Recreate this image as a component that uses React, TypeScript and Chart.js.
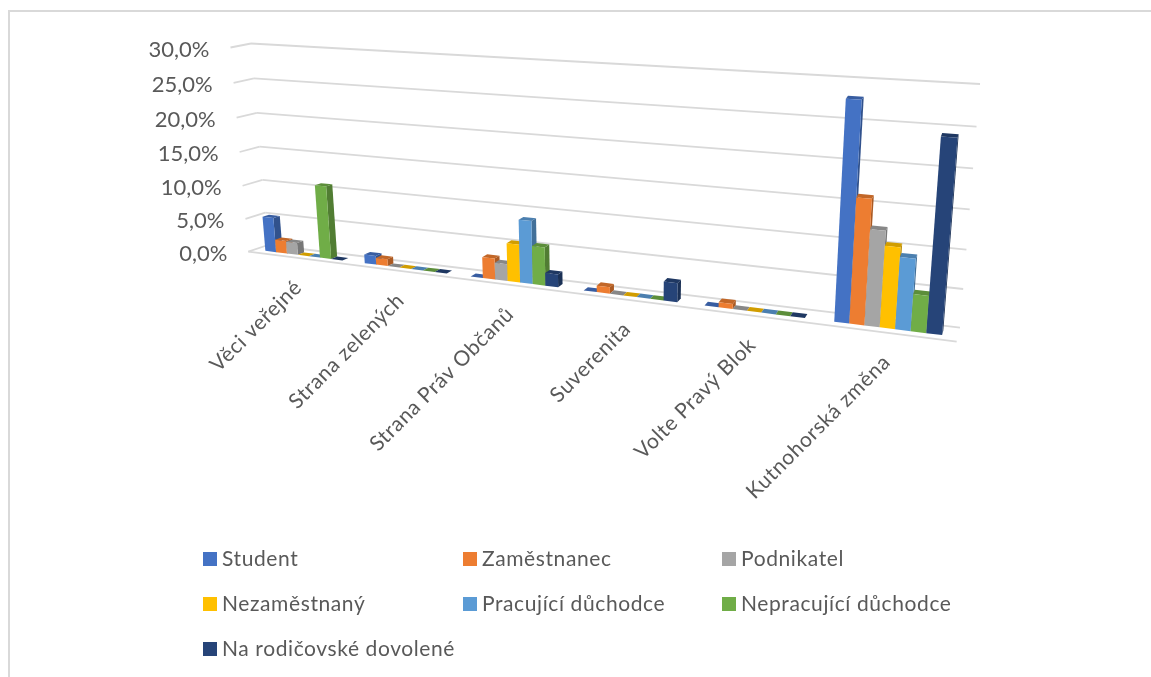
import React, { useEffect, useRef } from "react";
import { Chart, registerables } from "chart.js";

Chart.register(...registerables);

const categories = ["Věci veřejné", "Strana zelených", "Strana Práv Občanů", "Suverenita", "Volte Pravý Blok", "Kutnohorská změna"];
const student = [5.2, 1.3, 0, 0, 0, 28.1];
const zamestnanec = [1.9, 1.0, 3.0, 0.9, 0.7, 16.2];
const podnikatel = [1.8, 0, 2.4, 0, 0, 12.4];
const nezamestnany = [0, 0, 5.4, 0, 0, 10.5];
const pracujici = [0, 0, 8.9, 0, 0, 9.3];
const nepracujici = [10.8, 0, 5.4, 0, 0, 4.8];
const rodicovska = [0, 0, 1.8, 2.6, 0, 24.4];

const seriesNames = ["Student", "Zaměstnanec", "Podnikatel", "Nezaměstnaný", "Pracující důchodce", "Nepracující důchodce", "Na rodičovské dovolené"];
const seriesColors = ["#4472C4", "#ED7D31", "#A5A5A5", "#FFC000", "#5B9BD5", "#70AD47", "#264478"];
const seriesValues = [student, zamestnanec, podnikatel, nezamestnany, pracujici, nepracujici, rodicovska];

const FONT = "Lato, Carlito, sans-serif";
const TEXT = "#595959";
const GRID = "#D9D9D9";

type P = [number, number];

// maps the unit square to a quadrilateral (top-left, top-right, bottom-right, bottom-left)
function homography(a: P, b: P, c: P, d: P) {
  const dx1 = b[0] - c[0], dx2 = d[0] - c[0], sx = a[0] - b[0] + c[0] - d[0];
  const dy1 = b[1] - c[1], dy2 = d[1] - c[1], sy = a[1] - b[1] + c[1] - d[1];
  const den = dx1 * dy2 - dx2 * dy1;
  const g = (sx * dy2 - dx2 * sy) / den;
  const h = (dx1 * sy - sx * dy1) / den;
  return (u: number, v: number): P => {
    const w = g * u + h * v + 1;
    return [
      ((b[0] - a[0] + g * b[0]) * u + (d[0] - a[0] + h * d[0]) * v + a[0]) / w,
      ((b[1] - a[1] + g * b[1]) * u + (d[1] - a[1] + h * d[1]) * v + a[1]) / w,
    ];
  };
}

const backWall = homography([251, 43.5], [980, 84], [960, 327.7], [268, 245]);
const frontWall = homography([230.5, 47.5], [977, 94], [956.7, 341.7], [248.3, 251.7]);

const BAR_FRONT = 0.33;
const BAR_BACK = 0.66;

function project(u: number, v: number, d: number): P {
  const f = frontWall(u, v);
  const b = backWall(u, v);
  return [f[0] + (b[0] - f[0]) * d, f[1] + (b[1] - f[1]) * d];
}

function shade(hex: string, k: number) {
  const n = parseInt(hex.slice(1), 16);
  const c = [(n >> 16) & 255, (n >> 8) & 255, n & 255].map((x) => Math.round(x * k));
  return `rgb(${c[0]},${c[1]},${c[2]})`;
}

function poly(ctx: CanvasRenderingContext2D, pts: P[], fill: string) {
  ctx.beginPath();
  pts.forEach((p, i) => (i ? ctx.lineTo(p[0], p[1]) : ctx.moveTo(p[0], p[1])));
  ctx.closePath();
  ctx.fillStyle = fill;
  ctx.fill();
}

function line(ctx: CanvasRenderingContext2D, a: P, b: P) {
  ctx.beginPath();
  ctx.moveTo(a[0], a[1]);
  ctx.lineTo(b[0], b[1]);
  ctx.stroke();
}

const perspective3d = {
  id: "perspective3d",
  beforeDatasetsDraw(chart: any) {
    const { ctx, chartArea: ca, scales } = chart;
    const nu = (x: number) => (x - ca.left) / ca.width;
    const nv = (y: number) => (y - ca.top) / ca.height;

    ctx.save();
    // frame
    ctx.strokeStyle = GRID;
    ctx.lineWidth = 2;
    ctx.beginPath();
    ctx.moveTo(9, 677);
    ctx.lineTo(9, 11);
    ctx.lineTo(1151, 11);
    ctx.stroke();

    // grid lines from the y scale's ticks
    ctx.lineWidth = 1.8;
    scales.y.ticks.forEach((t: any, i: number) => {
      const v = nv(scales.y.getPixelForTick(i));
      line(ctx, project(0, v, 0), project(0, v, 1));
      line(ctx, project(0, v, 1), project(1, v, 1));
    });
    line(ctx, project(0, 1, 0), project(1, 1, 0));

    // bars, category by category, left to right
    categories.forEach((_, j) => {
      chart.data.datasets.forEach((ds: any, i: number) => {
        const el = chart.getDatasetMeta(i).data[j];
        const x0 = nu(el.x - el.width / 2);
        const x1 = nu(el.x + el.width / 2);
        const vt = nv(el.y);
        const vb = nv(el.base);
        const c = ds.backgroundColor as string;
        const ftl = project(x0, vt, BAR_FRONT), ftr = project(x1, vt, BAR_FRONT);
        const fbl = project(x0, vb, BAR_FRONT), fbr = project(x1, vb, BAR_FRONT);
        const btl = project(x0, vt, BAR_BACK), btr = project(x1, vt, BAR_BACK);
        const bbr = project(x1, vb, BAR_BACK);
        poly(ctx, [ftr, fbr, bbr, btr], shade(c, 0.72));
        poly(ctx, [ftl, ftr, btr, btl], shade(c, 0.82));
        if (vb - vt > 0) poly(ctx, [ftl, ftr, fbr, fbl], c);
      });
    });
    ctx.restore();
    return false;
  },
  afterDraw(chart: any) {
    const { ctx, chartArea: ca, scales } = chart;
    ctx.save();
    ctx.fillStyle = TEXT;

    // value axis labels
    ctx.font = `22px ${FONT}`;
    ctx.textAlign = "right";
    ctx.textBaseline = "middle";
    scales.y.ticks.forEach((t: any, i: number) => {
      const v = (scales.y.getPixelForTick(i) - ca.top) / ca.height;
      const p = project(0, v, 0);
      ctx.fillText(t.label, p[0] - 21, p[1] + 2);
    });

    // category labels
    ctx.font = `21px ${FONT}`;
    (ctx as any).letterSpacing = "0.6px";
    categories.forEach((_, j) => {
      const u = (scales.x.getPixelForValue(j) - ca.left) / ca.width;
      const p = project(u, 1, 0);
      ctx.save();
      ctx.translate(p[0] + 1, p[1] + 26);
      ctx.rotate(-Math.PI / 4);
      ctx.textAlign = "right";
      ctx.textBaseline = "middle";
      ctx.fillText(scales.x.getLabelForValue(j), 0, 0);
      ctx.restore();
    });

    // legend
    const cols = [203, 463, 722];
    const rows = [559, 604, 649];
    ctx.textAlign = "left";
    ctx.textBaseline = "middle";
    chart.data.datasets.forEach((ds: any, i: number) => {
      const x = cols[i % 3];
      const y = rows[Math.floor(i / 3)];
      ctx.fillStyle = ds.backgroundColor;
      ctx.fillRect(x, y - 7, 14, 14);
      ctx.fillStyle = TEXT;
      ctx.fillText(ds.label, x + 19, y);
    });
    ctx.restore();
  },
};

export default function App() {
  const ref = useRef<HTMLCanvasElement>(null);
  useEffect(() => {
    const chart = new Chart(ref.current as HTMLCanvasElement, {
      type: "bar",
      data: {
        labels: categories,
        datasets: seriesNames.map((name, i) => ({
          label: name,
          data: seriesValues[i],
          backgroundColor: seriesColors[i],
          categoryPercentage: 0.78,
          barPercentage: 1,
        })),
      },
      options: {
        animation: false,
        responsive: false,
        layout: { padding: { left: 251, right: 171, top: 43.5, bottom: 349.3 } },
        plugins: { legend: { display: false }, tooltip: { enabled: false } },
        scales: {
          x: { display: false, type: "category" },
          y: {
            display: false,
            min: 0,
            max: 30,
            ticks: { stepSize: 5, callback: (v: any) => `${Number(v).toFixed(1).replace(".", ",")}%` },
          },
        },
      },
      plugins: [perspective3d],
    } as any);
    return () => chart.destroy();
  }, []);
  return (
    <div style={{ position: "fixed", left: 0, top: 0, width: 1151, height: 677, background: "#fff" }}>
      <canvas ref={ref} width={1151} height={677} style={{ display: "block" }} />
    </div>
  );
}
